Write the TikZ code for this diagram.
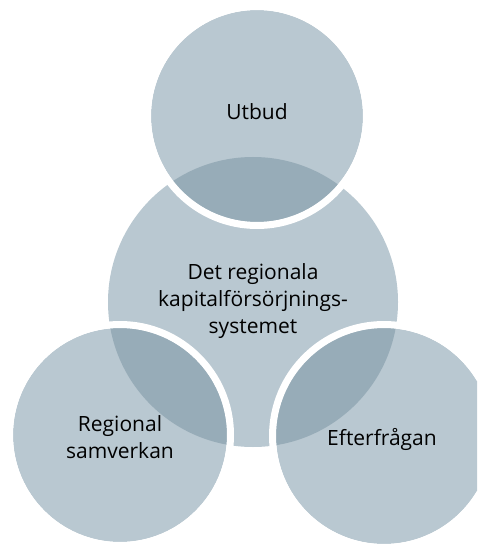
\documentclass[tikz,border=0pt]{standalone}
\usepackage{fontspec}
\setmainfont{Open Sans}
\definecolor{lightc}{RGB}{185,200,209}
\definecolor{darkc}{RGB}{151,172,184}
\tikzset{
  lbl/.style={font=\fontsize{21}{27}\selectfont, text=black, align=center, inner sep=0pt},
  ring/.style={draw=white, line width=7pt}
}
\begin{document}
\begin{tikzpicture}[x=1pt,y=-1pt]
\useasboundingbox (0,0) rectangle (477,545);
\clip (0,0) rectangle (477,545);
\coordinate (C) at (253,302);
\coordinate (T) at (257,116);
\coordinate (L) at (120,435);
\coordinate (R) at (384,436);
% base fills
\fill[lightc] (C) circle (145pt);
\fill[lightc] (T) circle (106pt);
\fill[lightc] (L) circle (107pt);
\fill[lightc] (R) circle (108pt);
% overlaps
\begin{scope}
  \clip (C) circle (145pt);
  \fill[darkc] (T) circle (106pt);
  \fill[darkc] (L) circle (107pt);
  \fill[darkc] (R) circle (108pt);
\end{scope}
% white outlines
\draw[ring] (T) circle (109.5pt);
\draw[ring] (L) circle (110.5pt);
\draw[ring] (R) circle (111.5pt);
% labels
\node[lbl] (tu) at (257,112) {Utbud};
\node[lbl] (tc) at (253,301) {Det regionala\\kapitalförsörjnings-\\systemet};
\node[lbl] (tl) at (120,437) {Regional\\samverkan};
\node[lbl] (tr) at (382,439) {Efterfrågan};
\end{tikzpicture}
\end{document}
